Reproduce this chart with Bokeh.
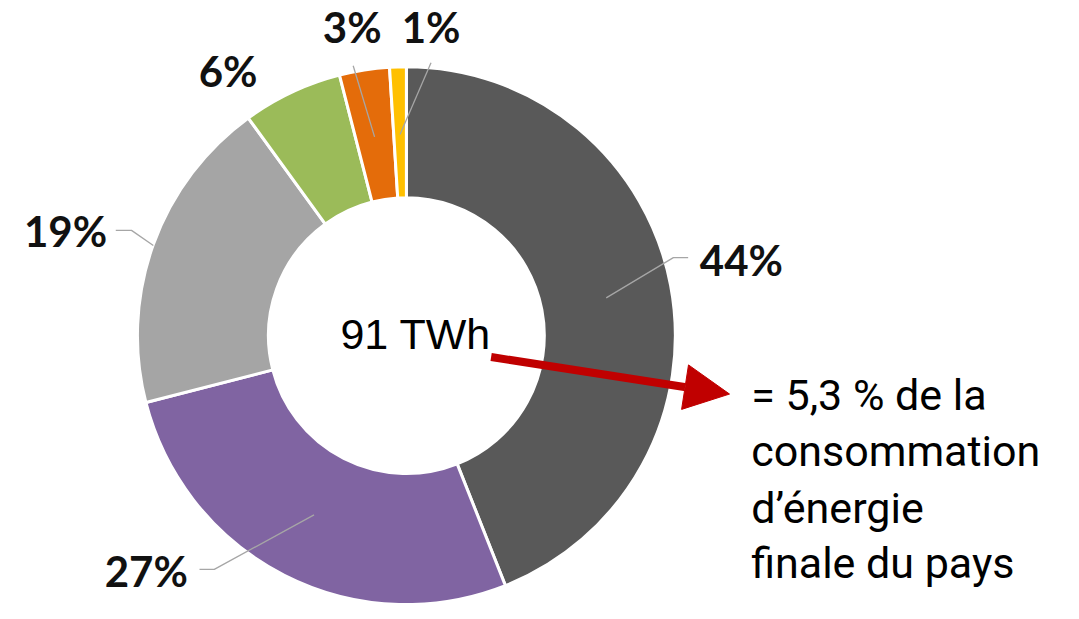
import numpy as np
from bokeh.plotting import figure
from bokeh.models import Range1d, Arrow, NormalHead, ColumnDataSource
from bokeh.core.properties import value
from bokeh.embed import file_html
from bokeh.resources import INLINE

# ---- data ----
shares = [44, 27, 19, 6, 3, 1]
share_labels = ["44%", "27%", "19%", "6%", "3%", "1%"]
colors = ["#595959", "#8064A2", "#A5A5A5", "#9BBB59", "#E46C0A", "#FFC000"]
total_label = "91 TWh"
note_lines = ["= 5,3 % de la", "consommation", "d\u2019énergie", "finale du pays"]

# ---- layout ----
W, H = 1063, 603          # figure size in pixels
REF_W, REF_H = 1079, 619  # coordinate frame used for the layout


def Y(py):
    return REF_H - py


def TY(py, fs, k=0.4):
    # baseline position, compensating the renderer's vertical text offset
    return Y(py - k * fs)


cx, cy = 412, Y(344)
r_out, r_in = 273, 140
r_mid = (r_out + r_in) / 2

# label layout: (text x, text baseline y, leader start radius, leader bend pts)
label_layout = [
    (752, 282, r_mid, [(683, 264), (698, 264)]),
    (148, 602, r_mid, [(217, 584), (202, 584)]),
    (66, 253, r_out, [(133, 236), (117, 236)]),
    (231, 88, None, []),
    (357, 43, r_mid, [(358, 67)]),
    (437, 43, r_mid, [(437, 64)]),
]

fr = np.array(shares, dtype=float) / sum(shares)
cum = np.cumsum(fr)
prev = np.concatenate([[0.0], cum[:-1]])
start = np.pi / 2 - 2 * np.pi * prev
end = np.pi / 2 - 2 * np.pi * cum
mid = (start + end) / 2

src = ColumnDataSource(dict(start=start, end=end, color=colors))

p = figure(width=W, height=H, x_range=Range1d(0, REF_W), y_range=Range1d(0, REF_H),
           title=None, output_backend="svg", toolbar_location=None, min_border=0,
           x_axis_location=None, y_axis_location=None, outline_line_color=None)
p.grid.visible = False
p.background_fill_color = "white"

p.annular_wedge(x=cx, y=cy, inner_radius=r_in, outer_radius=r_out,
                start_angle="start", end_angle="end", direction="clock",
                fill_color="color", line_color="white", line_width=3, source=src)

# leader lines
for i, (tx, ty, rr, pts) in enumerate(label_layout):
    if rr is None:
        continue
    xs = [cx + rr * np.cos(mid[i])] + [q[0] for q in pts]
    ys = [cy + rr * np.sin(mid[i])] + [Y(q[1]) for q in pts]
    p.line(xs, ys, line_color="#A6A6A6", line_width=1.3)

# percentage labels
FS_LAB = 42
p.text(x=[l[0] for l in label_layout], y=[TY(l[1], FS_LAB, 0.38) for l in label_layout],
       text=share_labels, text_font=value("Lato"), text_font_style="bold",
       text_font_size=f"{FS_LAB}px", text_align="center", text_baseline="alphabetic",
       text_color="#111111")

# centre total
FS_TOT = 43
p.text(x=[345], y=[TY(360, FS_TOT)], text=[total_label], text_font=value("Liberation Sans"),
       text_font_size=f"{FS_TOT}px", text_align="left", text_baseline="alphabetic",
       text_color="black")

# red arrow
p.add_layout(Arrow(end=NormalHead(size=45, fill_color="#C00000", line_color="#C00000"),
                   x_start=498, y_start=Y(366), x_end=740, y_end=Y(404),
                   line_color="#C00000", line_width=8))

# note text
FS_NOTE = 43
baselines = [427, 485, 543, 600]
p.text(x=[762] * len(note_lines), y=[TY(b, FS_NOTE, 0.52) for b in baselines], text=note_lines,
       text_font=value("Roboto"), text_font_size=f"{FS_NOTE}px", text_align="left",
       text_baseline="alphabetic", text_color="black")

open("out.html", "w").write(file_html(p, INLINE))
